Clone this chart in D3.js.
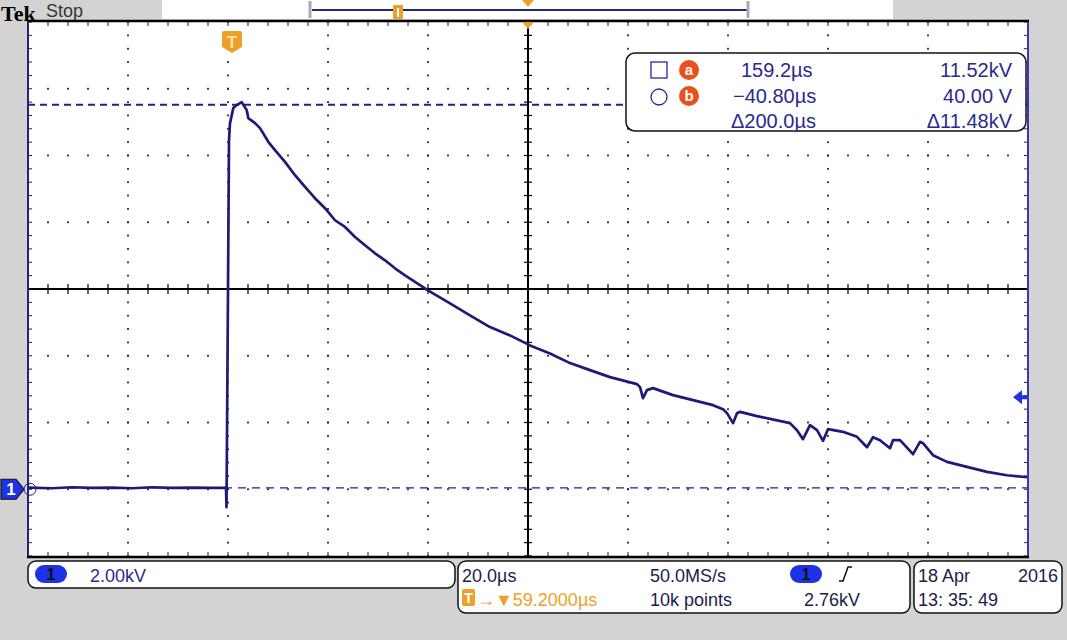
<!DOCTYPE html>
<html><head><meta charset="utf-8">
<script src="https://cdn.jsdelivr.net/npm/d3@7"></script>
<style>html,body{margin:0;padding:0;background:#d3d3d3;}svg{display:block;}</style>
</head><body>
<script>
// ---- data ----
const timeUs = [-40.8,-36,-32,-28,-24,-20,-16,-12,-8,-4,-1.4,-1.2,-1.1,-0.8,-0.6,-0.4,0.26,0.94,1.94,2.94,3.26,4.6,5.6,7.26,8.6,10.6,12.6,14.6,16.6,18.6,20.6,22.6,24.6,26.6,28.6,30.6,32.6,34.6,36.6,39.2,43.6,47.6,51.6,55.6,59.6,63.6,67.6,71.6,75.6,81.0,81.6,82.2,83.0,84.2,88.2,92.2,96.2,98.2,99.0,100.2,101.0,101.6,105.0,111.6,113.0,114.2,115.6,117.0,118.2,119.2,122.2,125.0,127.0,128.2,129.6,131.6,132.2,133.6,136.2,137.6,138.2,140.2,143.0,147.0,151.0,155.0,159.0];
const voltKV = [0.05,0.03,0.06,0.04,0.05,0.03,0.06,0.04,0.05,0.04,0.05,0.06,-0.54,5.96,10.46,10.97,11.42,11.51,11.60,11.36,11.12,10.97,10.82,10.41,10.16,9.81,9.41,9.06,8.72,8.42,8.06,7.86,7.56,7.31,7.07,6.86,6.62,6.41,6.21,5.96,5.57,5.21,4.86,4.61,4.31,4.07,3.78,3.57,3.36,3.15,3.06,2.73,2.97,3.03,2.82,2.67,2.52,2.40,2.28,1.98,2.28,2.32,2.19,1.98,1.77,1.50,1.92,1.77,1.45,1.80,1.72,1.57,1.26,1.56,1.47,1.23,1.47,1.47,1.05,1.42,1.38,1.02,0.82,0.67,0.52,0.42,0.36];
const timeDomain = [-40.8, 159.2];     // µs
const voltDomain = [-2, 14];           // kV
const cursorA = {t:159.2, v:11.52};
const cursorB = {t:-40.80, v:0.04};
const triggerLevelKV = 2.76;
const triggerTimeUs = 0;
const cursorRows = [["159.2µs","11.52kV"],["−40.80µs","40.00 V"],["Δ200.0µs","Δ11.48kV"]];
const statusLabels = {vdiv:"2.00kV", tdiv:"20.0µs", rate:"50.0MS/s", pts:"10k points", trig:"2.76kV", delay:"59.2000µs", date:"18 Apr", year:"2016", time:"13: 35: 49"};

// ---- layout ----
const W=1067,H=640;
const L=28,R=1028,T=22,B=556;
const svg=d3.select("body").append("svg").attr("width",W).attr("height",H);
const x=d3.scaleLinear().domain(timeDomain).range([L,R]);
const y=d3.scaleLinear().domain(voltDomain).range([B,T]);
const navy="#23237f", txt="#2a2a8c", orange="#f0a028", blue="#1f33e6";
const FONT="'Liberation Sans', Arial, sans-serif";

svg.append("rect").attr("width",W).attr("height",H).attr("fill","#d3d3d3");

// top bar
svg.append("text").attr("x",1).attr("y",21).attr("font-family","'Liberation Serif','DejaVu Serif',serif")
  .attr("font-weight","bold").attr("font-size",22).attr("fill","#000").text("Tek");
svg.append("text").attr("x",46).attr("y",17).attr("font-family",FONT).attr("font-size",18).attr("fill","#333").text("Stop");
svg.append("rect").attr("x",162).attr("y",0).attr("width",731).attr("height",19).attr("fill","#fff");
svg.append("line").attr("x1",312).attr("x2",747).attr("y1",10).attr("y2",10).attr("stroke","#2a2370").attr("stroke-width",2);
[310,748].forEach(v=>svg.append("line").attr("x1",v).attr("x2",v).attr("y1",1).attr("y2",18).attr("stroke","#a8a8b8").attr("stroke-width",3));
svg.append("rect").attr("x",393).attr("y",5).attr("width",10).attr("height",14).attr("fill",orange).attr("rx",1);
svg.append("line").attr("x1",398).attr("x2",398).attr("y1",8).attr("y2",17).attr("stroke","#fff").attr("stroke-width",2);
svg.append("path").attr("d",`M${x(59.2)-6},0 L${x(59.2)+6},0 L${x(59.2)},7 Z`).attr("fill",orange);

// plot area
svg.append("rect").attr("x",L).attr("y",T).attr("width",R-L).attr("height",B-T).attr("fill","#fff");

const g=svg.append("g");
const xDiv=d3.range(0,11).map(i=>timeDomain[0]+i*20);
const yDiv=d3.range(0,9).map(i=>voltDomain[0]+i*2);
const xMinor=d3.range(0,51).map(i=>timeDomain[0]+i*4);
const yMinor=d3.range(0,41).map(i=>voltDomain[0]+i*0.4);
// dotted grid lines
xDiv.slice(1,-1).forEach((tv,i)=>{ if(i===4) return;
  yMinor.forEach(vv=>g.append("rect").attr("x",x(tv)-0.9).attr("y",y(vv)-0.9).attr("width",1.8).attr("height",1.8).attr("fill","#222"));});
yDiv.slice(1,-1).forEach((vv,i)=>{ if(i===3) return;
  xMinor.forEach(tv=>g.append("rect").attr("x",x(tv)-0.9).attr("y",y(vv)-0.9).attr("width",1.8).attr("height",1.8).attr("fill","#222"));});
// edge ticks
xMinor.forEach(tv=>{g.append("line").attr("x1",x(tv)).attr("x2",x(tv)).attr("y1",T).attr("y2",T+4).attr("stroke","#222");
  g.append("line").attr("x1",x(tv)).attr("x2",x(tv)).attr("y1",B-4).attr("y2",B).attr("stroke","#222");});
yMinor.forEach(vv=>{g.append("line").attr("x1",L).attr("x2",L+4).attr("y1",y(vv)).attr("y2",y(vv)).attr("stroke","#222");
  g.append("line").attr("x1",R-4).attr("x2",R).attr("y1",y(vv)).attr("y2",y(vv)).attr("stroke","#222");});
// crosshair
const cx=x(59.2), cy=y(6);
g.append("line").attr("x1",L).attr("x2",R).attr("y1",cy).attr("y2",cy).attr("stroke","#000").attr("stroke-width",2);
g.append("line").attr("x1",cx).attr("x2",cx).attr("y1",T).attr("y2",B).attr("stroke","#000").attr("stroke-width",2);
xMinor.forEach(tv=>g.append("line").attr("x1",x(tv)).attr("x2",x(tv)).attr("y1",cy-5).attr("y2",cy+5).attr("stroke","#000").attr("stroke-width",1.2));
yMinor.forEach(vv=>g.append("line").attr("x1",cx-4).attr("x2",cx+4).attr("y1",y(vv)).attr("y2",y(vv)).attr("stroke","#000").attr("stroke-width",1.2));

// cursor lines
svg.append("line").attr("x1",L).attr("x2",R).attr("y1",y(cursorA.v)).attr("y2",y(cursorA.v)).attr("stroke",navy).attr("stroke-width",2).attr("stroke-dasharray","7,5");
svg.append("line").attr("x1",L).attr("x2",R).attr("y1",y(cursorB.v)).attr("y2",y(cursorB.v)).attr("stroke",navy).attr("stroke-width",1.2).attr("stroke-dasharray","8,6");

// waveform
const pts=timeUs.map((t,i)=>[t,voltKV[i]]);
svg.append("path").datum(pts).attr("d",d3.line().x(d=>x(d[0])).y(d=>y(d[1])))
  .attr("fill","none").attr("stroke","#1c1c78").attr("stroke-width",2.7).attr("stroke-linejoin","round");

// frame
svg.append("line").attr("x1",L-1).attr("x2",R+1).attr("y1",T-1).attr("y2",T-1).attr("stroke","#000").attr("stroke-width",2.5);
svg.append("line").attr("x1",L-1).attr("x2",R+1).attr("y1",B+1).attr("y2",B+1).attr("stroke","#000").attr("stroke-width",2.5);
svg.append("line").attr("x1",L).attr("x2",L).attr("y1",T).attr("y2",B).attr("stroke",navy).attr("stroke-width",2);
svg.append("line").attr("x1",R).attr("x2",R).attr("y1",T).attr("y2",B).attr("stroke","#3a3ab0").attr("stroke-width",2);

// center top orange triangle
svg.append("path").attr("d",`M${cx-6},${T} L${cx+6},${T} L${cx},${T+7} Z`).attr("fill",orange);
// trigger T marker
const tx=x(triggerTimeUs);
svg.append("path").attr("d",`M${tx-10},33 Q${tx-10},31 ${tx-8},31 L${tx+8},31 Q${tx+10},31 ${tx+10},33 L${tx+10},47 L${tx},53 L${tx-10},47 Z`).attr("fill",orange);
svg.append("text").attr("x",tx).attr("y",48).attr("text-anchor","middle").attr("font-family",FONT).attr("font-weight","bold").attr("font-size",16).attr("fill","#fde8b0").text("T");
// ground marker channel 1
const gy=y(0);
svg.append("path").attr("d",`M1,${gy-10} L16,${gy-10} L24,${gy} L16,${gy+10} L1,${gy+10} Z`).attr("fill",blue).attr("stroke","#111").attr("stroke-width",1.2);
svg.append("text").attr("x",11).attr("y",gy+6).attr("text-anchor","middle").attr("font-family",FONT).attr("font-weight","bold").attr("font-size",17).attr("fill","#fff").text("1");
svg.append("circle").attr("cx",30).attr("cy",gy).attr("r",6).attr("fill","none").attr("stroke",navy).attr("stroke-width",1);
// trigger level arrow
const ty=y(triggerLevelKV);
svg.append("path").attr("d",`M1013,${ty} L1022,${ty-7} L1022,${ty-2} L1028,${ty-2} L1028,${ty+2} L1022,${ty+2} L1022,${ty+7} Z`).attr("fill",blue);

// cursor readout
svg.append("rect").attr("x",626).attr("y",53).attr("width",400).attr("height",78).attr("rx",9).attr("fill","#fff").attr("stroke","#111").attr("stroke-width",1.5);
svg.append("rect").attr("x",651).attr("y",62).attr("width",16).attr("height",16).attr("fill","none").attr("stroke",txt).attr("stroke-width",1.3);
svg.append("circle").attr("cx",659).attr("cy",97).attr("r",8).attr("fill","none").attr("stroke",txt).attr("stroke-width",1.3);
[["a",70],["b",96]].forEach(([c,cyy])=>{
  svg.append("circle").attr("cx",689).attr("cy",cyy).attr("r",10).attr("fill","#e8501c");
  svg.append("text").attr("x",689).attr("y",cyy+5).attr("text-anchor","middle").attr("font-family",FONT).attr("font-weight","bold").attr("font-size",15).attr("fill","#fff").text(c);});
const rowY=[77,103,128];
cursorRows.forEach((r,i)=>{
  svg.append("text").attr("x",[741,733,731][i]).attr("y",rowY[i]).attr("font-family",FONT).attr("font-size",20).attr("fill",txt).text(r[0]);
  svg.append("text").attr("x",1012).attr("y",rowY[i]).attr("text-anchor","end").attr("font-family",FONT).attr("font-size",20).attr("fill",txt).text(r[1]);
});

// status boxes
function box(x0,y0,w,h){svg.append("rect").attr("x",x0).attr("y",y0).attr("width",w).attr("height",h).attr("rx",8).attr("fill","#fff").attr("stroke","#111").attr("stroke-width",1.5);}
box(28,561,427,27); box(458,561,452,52); box(914,561,148,52);
function pill(cx0,cy0){svg.append("rect").attr("x",cx0-16).attr("y",cy0-9).attr("width",32).attr("height",18).attr("rx",9).attr("fill",blue);
  svg.append("text").attr("x",cx0).attr("y",cy0+6).attr("text-anchor","middle").attr("font-family",FONT).attr("font-weight","bold").attr("font-size",16).attr("fill","#111").text("1");}
pill(51,574); pill(806,574);
const dark="#1c1c4a";
function t(xx,yy,s,col,anchor){svg.append("text").attr("x",xx).attr("y",yy).attr("text-anchor",anchor||"start").attr("font-family",FONT).attr("font-size",18).attr("fill",col).text(s);}
t(90,582,statusLabels.vdiv,txt);
t(462,582,statusLabels.tdiv,dark);
t(650,582,statusLabels.rate,dark);
t(650,606,statusLabels.pts,dark);
t(860,606,statusLabels.trig,dark,"end");
svg.append("path").attr("d","M839,581 L843,581 L848,567 L852,567").attr("fill","none").attr("stroke","#111").attr("stroke-width",1.5);
svg.append("rect").attr("x",462).attr("y",589).attr("width",13).attr("height",17).attr("rx",2).attr("fill",orange);
svg.append("text").attr("x",468.5).attr("y",603).attr("text-anchor","middle").attr("font-family",FONT).attr("font-weight","bold").attr("font-size",14).attr("fill","#fff").text("T");
t(477,606,"→▼"+statusLabels.delay,orange);
t(918,582,statusLabels.date,dark);
t(1058,582,statusLabels.year,dark,"end");
t(918,606,statusLabels.time,dark);
</script>
</body></html>
